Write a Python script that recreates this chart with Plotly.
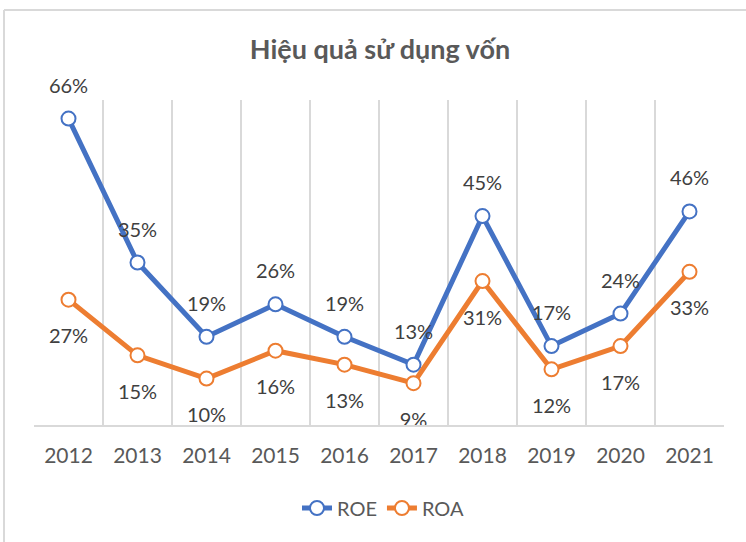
import plotly.graph_objects as go

years = ["2012", "2013", "2014", "2015", "2016", "2017", "2018", "2019", "2020", "2021"]
roe = [0.66, 0.35, 0.19, 0.26, 0.19, 0.13, 0.45, 0.17, 0.24, 0.46]
roa = [0.27, 0.15, 0.10, 0.16, 0.13, 0.09, 0.31, 0.12, 0.17, 0.33]
series_names = ["ROE", "ROA"]
colors = ["#4472C4", "#ED7D31"]

FONT = "Lato"
W, H = 746, 542
L, R, T, B = 34, 22, 100, 117
pw, ph = W - L - R, H - T - B

fig = go.Figure()
for name, vals, col in zip(series_names, [roe, roa], colors):
    fig.add_trace(go.Scatter(
        x=years, y=vals, name=name, mode="lines+markers",
        line=dict(color=col, width=5),
        marker=dict(size=14, color="white", line=dict(color=col, width=2)),
        cliponaxis=False, hoverinfo="skip",
    ))

# data labels: invisible larger markers give the label offset
for vals, pos, msize in [(roe, "top center", 32), (roa, "bottom center", 44)]:
    fig.add_trace(go.Scatter(
        x=years, y=vals, mode="markers+text", showlegend=False, hoverinfo="skip",
        marker=dict(size=msize, color="rgba(0,0,0,0)"),
        texttemplate="%{y:.0%}", textposition=pos, cliponaxis=False,
        textfont=dict(family=FONT, size=20, color="#404040"),
    ))

# chart border (left and top visible)
bx = (4 - L) / pw
by = 1 + (T - 10) / ph
shapes = [
    dict(type="line", xref="paper", yref="paper", x0=bx, x1=bx, y0=by, y1=-1,
         line=dict(color="#D9D9D9", width=2)),
    dict(type="line", xref="paper", yref="paper", x0=bx, x1=2, y0=by, y1=by,
         line=dict(color="#D9D9D9", width=2)),
]

fig.update_layout(
    width=W, height=H,
    margin=dict(l=L, r=R, t=T, b=B),
    paper_bgcolor="white", plot_bgcolor="white",
    shapes=shapes, hovermode=False,
    title=dict(text="<b>Hiệu quả sử dụng vốn</b>", x=(380 - L) / pw, xref="paper",
               xanchor="center", y=1 - 50 / H, yref="container", yanchor="middle",
               font=dict(family=FONT, size=27, color="#595959")),
    xaxis=dict(type="category", tickson="boundaries", showgrid=True, gridcolor="#D9D9D9",
               gridwidth=1.5, showline=True, linecolor="#D9D9D9", linewidth=1.5,
               ticks="", tickfont=dict(family=FONT, size=21, color="#595959"),
               ticklabelstandoff=11, range=[-0.5, 9.5]),
    yaxis=dict(range=[0, 0.7], showgrid=False, showticklabels=False, zeroline=False,
               showline=False),
    showlegend=True,
    legend=dict(orientation="h", x=(383 - L) / pw, xanchor="center",
                y=(425 - 508) / ph, yanchor="middle",
                font=dict(family=FONT, size=20, color="#595959")),
)
fig.write_html("out.html", config={"displayModeBar": False},
               post_script="document.body.style.margin='0';")
